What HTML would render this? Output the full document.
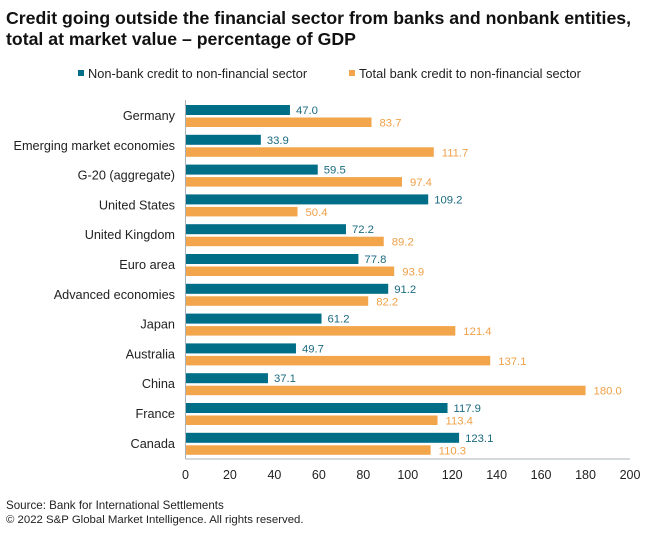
<!DOCTYPE html>
<html><head><meta charset="utf-8"><style>
body{margin:0;background:#fff;font-family:"Liberation Sans",sans-serif;}
svg text{font-family:"Liberation Sans",sans-serif;}
</style></head><body>
<svg width="660" height="535" xmlns="http://www.w3.org/2000/svg">
<text x="6" y="24" font-size="17.7" font-weight="bold" fill="#111">Credit going outside the financial sector from banks and nonbank entities,</text>
<text x="6" y="45" font-size="17.7" font-weight="bold" fill="#111">total at market value – percentage of GDP</text>
<g>
<rect x="78" y="70" width="6" height="6" fill="#006e87"/>
<text x="88" y="78" font-size="12.8" fill="#222">Non-bank credit to non-financial sector</text>
<rect x="349" y="70" width="6" height="6" fill="#f2a54a"/>
<text x="359" y="78" font-size="12.8" fill="#222">Total bank credit to non-financial sector</text>
</g>
<g id="plot"></g>
<text x="6" y="509" font-size="11.6" fill="#222">Source: Bank for International Settlements</text>
<text x="6" y="523" font-size="11.4" fill="#222">© 2022 S&amp;P Global Market Intelligence. All rights reserved.</text>
</svg>
<script>
const categories=["Germany","Emerging market economies","G-20 (aggregate)","United States","United Kingdom","Euro area","Advanced economies","Japan","Australia","China","France","Canada"];
const nonBank=[47.0,33.9,59.5,109.2,72.2,77.8,91.2,61.2,49.7,37.1,117.9,123.1];
const bank=[83.7,111.7,97.4,50.4,89.2,93.9,82.2,121.4,137.1,180.0,113.4,110.3];
const ticks=[0,20,40,60,80,100,120,140,160,180,200];
const NS="http://www.w3.org/2000/svg";
const g=document.getElementById('plot');
const x0=185.5,x1=630,xMax=200;
const xs=v=>x0+(v/xMax)*(x1-x0);
const rowTop=i=>105+i*29.8;
function mk(t,a){const e=document.createElementNS(NS,t);for(const k in a)e.setAttribute(k,a[k]);g.appendChild(e);return e;}
categories.forEach((c,i)=>{
 const y=rowTop(i);
 let t=mk('text',{x:175,y:y+15,'font-size':12.7,fill:'#222','text-anchor':'end'});t.textContent=c;
 
 
 let r=mk('rect',{x:x0,y:y,width:xs(nonBank[i])-x0,height:10,fill:'#006e87'});
 
 
 let l=mk('text',{x:xs(nonBank[i])+6,y:y+9,'font-size':11.3,fill:'#1b6a80'});l.textContent=nonBank[i].toFixed(1);
 
 
 let r2=mk('rect',{x:x0,y:y+12.5,width:xs(bank[i])-x0,height:9.5,fill:'#f2a54a'});
 
 
 let l2=mk('text',{x:xs(bank[i])+8,y:y+21.5,'font-size':11.3,fill:'#f0a048'});l2.textContent=bank[i].toFixed(1);
 
 
});
let ax=mk('line',{x1:x0,y1:100,x2:x0,y2:459,stroke:'#aab3ba','stroke-width':1});


let bx=mk('line',{x1:x0,y1:459,x2:x1,y2:459,stroke:'#aab3ba','stroke-width':1});


ticks.forEach(v=>{
 let t=mk('text',{x:xs(v),y:479,'font-size':12.5,fill:'#222','text-anchor':'middle'});t.textContent=v;
 
 
});
</script>
</body></html>
